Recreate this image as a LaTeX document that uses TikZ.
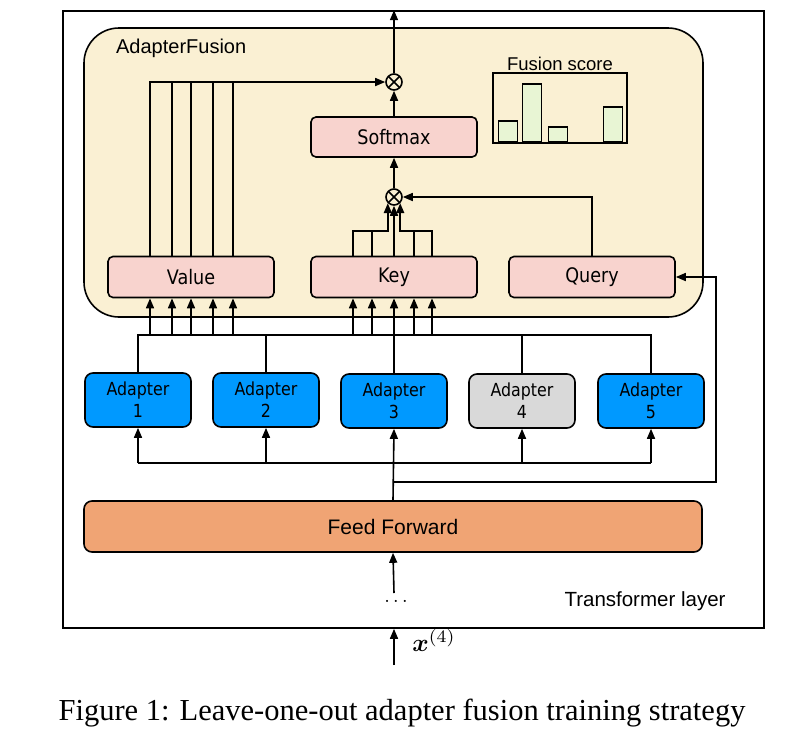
\documentclass[tikz,border=0pt]{standalone}
\usepackage{fontspec}
\usepackage{amsmath}
\usepackage{graphicx}
\setmainfont{Liberation Serif}
\newfontfamily\labelfont{Liberation Sans}
\newfontfamily\boxfont[FakeStretch=0.88]{DejaVu Sans}
\usetikzlibrary{arrows.meta,calc}
\definecolor{fusionbg}{RGB}{250,240,211}
\definecolor{keypink}{RGB}{248,211,206}
\definecolor{adblue}{RGB}{0,153,255}
\definecolor{adgrey}{RGB}{217,217,217}
\definecolor{ffsalmon}{RGB}{240,164,116}
\definecolor{bargreen}{RGB}{232,245,212}
\tikzset{
  arr/.style={-{Triangle[width=8pt,length=10pt]}},
  attbox/.style={draw, fill=keypink, rounded corners=5pt, minimum width=166pt, minimum height=41pt, font=\boxfont\fontsize{20}{24}\selectfont},
  adbox/.style={draw, fill=adblue, rounded corners=8pt, minimum width=106pt, minimum height=54pt, align=center, font=\boxfont\fontsize{18}{22}\selectfont},
  mult/.style={circle, draw, minimum size=16pt, inner sep=0pt, path picture={\draw (path picture bounding box.north west) -- (path picture bounding box.south east) (path picture bounding box.north east) -- (path picture bounding box.south west);}},
  bar/.style={draw, fill=bargreen, minimum width=19pt, anchor=south, inner sep=0pt},
}
\begin{document}
\begin{tikzpicture}[x=1pt, y=-1pt, line width=1.6pt]
  \useasboundingbox (0,0) rectangle (795,734);
  \node[draw, minimum width=701pt, minimum height=617pt] (layer) at (413.5,319.5) {};
  \node[draw, fill=fusionbg, rounded corners=35pt, minimum width=619pt, minimum height=289pt] (fusion) at (393.5,172.5) {};
  \node[anchor=west, font=\labelfont\fontsize{20}{24}\selectfont] (fusionlbl) at (112,48) {AdapterFusion};

  % attention
  \node[attbox] (val) at (191,277) {Value};
  \node[attbox] (key) at (394,277) {Key};
  \node[attbox] (qry) at (592,277) {Query};
  \node[attbox, minimum height=40pt] (soft) at (394,137) {Softmax};
  \node[mult] (m1) at (394,82) {};
  \node[mult] (m2) at (394,197) {};

  % fusion score
  \node[draw, minimum width=134pt, minimum height=70pt] (chart) at (560,107.7) {};
  \node[font=\labelfont\fontsize{18.5}{22}\selectfont] (chartlbl) at (560,64) {Fusion score};
  \node[bar, minimum height=21pt] (b1) at (508,142.7) {};
  \node[bar, minimum height=58pt] (b2) at (532,142.7) {};
  \node[bar, minimum height=15pt] (b3) at (558,142.7) {};
  \node[bar, minimum height=35pt] (b5) at (613,142.7) {};

  % adapters
  \node[adbox] (ad1) at (138,400) {Adapter\\1};
  \node[adbox] (ad2) at (266,400) {Adapter\\2};
  \node[adbox] (ad3) at (394,401) {Adapter\\3};
  \node[adbox, fill=adgrey] (ad4) at (522,401) {Adapter\\4};
  \node[adbox] (ad5) at (651,401) {Adapter\\5};

  \node[draw, fill=ffsalmon, rounded corners=8pt, minimum width=618pt, minimum height=51pt, font=\labelfont\fontsize{21}{24}\selectfont] (ff) at (393,526.5) {Feed Forward};
  \node[inner sep=0pt] (dots) at (396,601) {\scalebox{2}{$\ldots$}};
  \coordinate (ffin) at (394,593);
  \node[font=\labelfont\fontsize{20.5}{24}\selectfont] (layerlbl) at (645,601) {Transformer layer};
  \coordinate (xin) at (394,665);
  \node (xlbl) at (434,640) {\scalebox{2.5}{$\boldsymbol{x}^{(4)}$}};
  \node[font=\fontsize{30.5}{36}\selectfont] (caption) at (402,713) {Figure 1: Leave-one-out adapter fusion training strategy};

  % output
  \draw[arr] (m1) -- (m1 |- layer.north);
  \draw[arr] (soft) -- (m1);
  \draw[arr] (m2) -- (soft);
  \draw[arr] (qry.north) |- (m2);

  % keys into the product
  \coordinate (kj) at (394,231);
  \draw[arr] ($(key.north)+(-41,0)$) |- (kj -| m2.south west) -- (m2.south west);
  \draw ($(key.north)+(-22,0)$) -- ($(key.north)+(-22,-26)$);
  \draw[arr] ($(key.north)+(38,0)$) |- (kj -| m2.south east) -- (m2.south east);
  \draw ($(key.north)+(20,0)$) -- ($(key.north)+(20,-26)$);
  \draw[arr] (key) -- (m2);

  % values into the product
  \foreach \dx in {-19,0,22,42}
    \draw ($(val.north)+(\dx,0)$) -- ($(val.north)+(\dx,-174.5)$);
  \draw[arr] ($(val.north)+(-41,0)$) |- (m1);

  % inputs from the adapters
  \coordinate (bus) at (138,335);
  \foreach \dx in {-41,-19,0,22,42}
    \draw[arr] ($(val.south)+(\dx,37.5)$) -- ($(val.south)+(\dx,0)$);
  \foreach \dx in {-41,-22,0,20,38}
    \draw[arr] ($(key.south)+(\dx,37.5)$) -- ($(key.south)+(\dx,0)$);
  \draw (ad1.north) |- (bus -| ad5.north) -- (ad5.north);
  \draw (ad2.north) -- (ad2.north |- bus);
  \draw (ad3.north) -- (ad3.north |- bus);
  \draw (ad4.north) -- (ad4.north |- bus);

  % from the feed forward
  \coordinate (low) at (394,463);
  \draw (low -| ad1) -- (low -| ad5);
  \foreach \a in {ad1,ad2,ad4,ad5}
    \draw[arr] (low -| \a) -- (\a.south);
  \draw[arr] (ff.north) -- (ad3.south);
  \coordinate (qbend) at (716,482);
  \draw[arr] (qbend -| ff.north) -- (qbend) |- (qry.east);
  \draw[arr] (ffin) -- (ff.south);
  \draw[arr] (xin) -- (xin |- layer.south);
\end{tikzpicture}
\end{document}
